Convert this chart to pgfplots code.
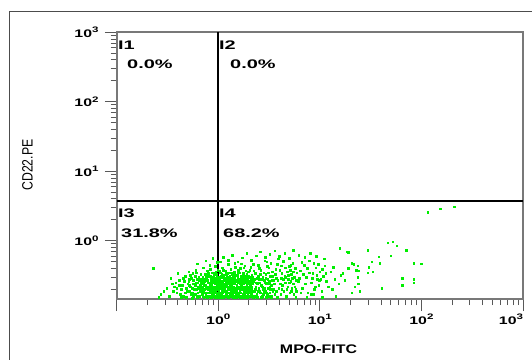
\documentclass[border=0pt]{standalone}
\usepackage{pgfplots}
\pgfplotsset{compat=1.18}
\usepackage{fontspec}
\setmainfont{Liberation Sans}
\definecolor{dotgreen}{RGB}{0,238,0}
\definecolor{axgray}{RGB}{120,120,120}
\newcommand{\lbl}[1]{\scalebox{1.45}[1]{\fontsize{11}{11}\selectfont\bfseries 10\raisebox{0.42em}{\fontsize{8}{8}\selectfont #1}}}
\newcommand{\lastlbl}[1]{\hbox to 0pt{\hss\lbl{#1}}}
\newcommand{\qlab}[1]{\scalebox{1.6}[1]{\fontsize{12.5}{12.5}\selectfont\bfseries #1}}
\begin{document}
\begin{tikzpicture}[x=1bp,y=1bp]
\useasboundingbox (0,0) rectangle (532,359);
\draw[line width=1bp, black!70] (9,-2) -- (9,347) -- (534,347);
\begin{axis}[
  at={(116.7bp,60bp)}, anchor=south west,
  scale only axis, width=406.3bp, height=266.7bp,
  xmode=log, ymode=log,
  xmin=0.1, xmax=1000, ymin=0.1455, ymax=1000,
  axis line style={draw=axgray, line width=2.2bp},
  xtick={0.1,1,10,100,1000},
  xticklabels={,\lbl{0},\lbl{1},\lbl{2},\lastlbl{3}},
  minor xtick={0.2,0.3,0.4,0.5,0.6,0.7,0.8,0.9,2,3,4,5,6,7,8,9,20,30,40,50,60,70,80,90,200,300,400,500,600,700,800,900},
  ytick={1,10,100,1000},
  yticklabels={\lbl{0},\lbl{1},\lbl{2},\lbl{3}},
  minor ytick={0.2,0.3,0.4,0.5,0.6,0.7,0.8,0.9,2,3,4,5,6,7,8,9,20,30,40,50,60,70,80,90,200,300,400,500,600,700,800,900},
  tick align=outside, xtick pos=bottom, ytick pos=left,
  major tick length=12bp, minor tick length=6bp,
  tick style={draw=black!65, line width=1bp},
  xticklabel style={inner sep=0pt, anchor=north, yshift=-3bp},
  yticklabel style={inner sep=0pt, anchor=east, xshift=-6bp},
]
\addplot[dotgreen, only marks, mark=square*, mark size=0.8bp, mark options={draw=none, fill=dotgreen}] coordinates {
(0.23,0.40)(0.34,0.29)(0.27,0.17)(0.31,0.21)(0.33,0.16)(0.29,0.19)(0.35,0.24)(0.26,0.155)
(0.37,0.22)(0.39,0.18)(0.41,0.27)(0.43,0.20)(0.45,0.16)(0.47,0.31)(0.38,0.25)(0.44,0.23)(0.49,0.19)(0.42,0.17)
(0.46,0.26)(0.48,0.21)(0.40,0.34)(0.36,0.19)(0.45,0.29)(0.50,0.24)(0.43,0.155)(0.39,0.21)(0.47,0.18)(0.41,0.23)
(0.51,0.36)(0.53,0.22)(0.55,0.18)(0.57,0.27)(0.59,0.31)(0.61,0.20)(0.63,0.25)(0.65,0.16)(0.67,0.33)(0.69,0.22)
(0.52,0.19)(0.54,0.29)(0.56,0.24)(0.58,0.17)(0.60,0.38)(0.62,0.28)(0.64,0.21)(0.66,0.19)(0.68,0.26)(0.70,0.30)
(0.51,0.26)(0.53,0.32)(0.55,0.21)(0.57,0.16)(0.59,0.23)(0.61,0.35)(0.63,0.18)(0.65,0.27)(0.67,0.24)(0.69,0.17)
(0.52,0.23)(0.56,0.34)(0.58,0.20)(0.62,0.16)(0.64,0.30)(0.66,0.23)(0.68,0.19)(0.54,0.17)(0.60,0.25)(0.70,0.21)
(0.71,0.41)(0.72,0.19)(0.73,0.26)(0.74,0.33)(0.75,0.17)(0.76,0.22)(0.77,0.29)(0.78,0.37)(0.79,0.20)(0.80,0.25)
(0.81,0.16)(0.82,0.31)(0.83,0.23)(0.84,0.18)(0.85,0.28)(0.86,0.35)(0.87,0.21)(0.88,0.17)(0.89,0.26)(0.90,0.32)
(0.91,0.19)(0.92,0.24)(0.93,0.43)(0.94,0.27)(0.95,0.16)(0.96,0.22)(0.97,0.30)(0.98,0.18)(0.99,0.25)(0.72,0.28)
(0.74,0.23)(0.76,0.16)(0.78,0.21)(0.80,0.34)(0.82,0.19)(0.84,0.26)(0.86,0.23)(0.88,0.30)(0.90,0.17)(0.92,0.20)
(0.94,0.36)(0.96,0.18)(0.98,0.29)(0.73,0.20)(0.75,0.30)(0.77,0.18)(0.79,0.27)(0.81,0.22)(0.83,0.39)(0.85,0.19)
(0.87,0.25)(0.89,0.16)(0.91,0.28)(0.93,0.21)(0.95,0.33)(0.97,0.17)(0.99,0.20)(0.71,0.24)(0.77,0.33)(0.83,0.16)
(0.89,0.22)(0.95,0.24)(0.99,0.38)(0.74,0.18)(0.80,0.20)(0.86,0.17)(0.92,0.29)(0.96,0.26)(0.76,0.27)(0.84,0.31)
(1.01,0.19)(1.02,0.27)(1.03,0.22)(1.04,0.35)(1.05,0.17)(1.06,0.24)(1.07,0.30)(1.08,0.20)(1.09,0.41)(1.10,0.26)
(1.11,0.18)(1.12,0.23)(1.13,0.32)(1.14,0.16)(1.15,0.28)(1.16,0.21)(1.17,0.37)(1.18,0.19)(1.19,0.25)(1.20,0.29)
(1.21,0.17)(1.22,0.22)(1.23,0.34)(1.24,0.20)(1.25,0.27)(1.26,0.46)(1.27,0.18)(1.28,0.24)(1.29,0.31)(1.30,0.21)
(1.31,0.16)(1.32,0.26)(1.33,0.39)(1.34,0.19)(1.35,0.23)(1.36,0.28)(1.37,0.17)(1.38,0.33)(1.39,0.20)(1.40,0.25)
(1.41,0.22)(1.42,0.30)(1.43,0.18)(1.44,0.36)(1.45,0.24)(1.46,0.16)(1.47,0.27)(1.48,0.21)(1.49,0.32)(1.50,0.19)
(1.02,0.21)(1.04,0.16)(1.06,0.31)(1.08,0.25)(1.10,0.19)(1.12,0.38)(1.14,0.22)(1.16,0.27)(1.18,0.17)(1.20,0.23)
(1.22,0.30)(1.24,0.16)(1.26,0.21)(1.28,0.35)(1.30,0.26)(1.32,0.18)(1.34,0.29)(1.36,0.22)(1.38,0.16)(1.40,0.31)
(1.42,0.19)(1.44,0.24)(1.46,0.42)(1.48,0.17)(1.03,0.29)(1.07,0.17)(1.11,0.26)(1.15,0.20)(1.19,0.33)(1.23,0.18)
(1.27,0.28)(1.31,0.23)(1.35,0.19)(1.39,0.27)(1.43,0.25)(1.47,0.20)(1.05,0.23)(1.13,0.19)(1.21,0.26)(1.29,0.17)
(1.52,0.23)(1.55,0.29)(1.58,0.18)(1.61,0.35)(1.64,0.21)(1.67,0.26)(1.70,0.16)(1.73,0.31)(1.76,0.24)(1.79,0.19)
(1.82,0.44)(1.85,0.27)(1.88,0.20)(1.91,0.33)(1.94,0.17)(1.97,0.25)(2.00,0.22)(2.03,0.38)(2.06,0.18)(2.09,0.28)
(2.12,0.21)(2.15,0.16)(2.18,0.30)(1.53,0.17)(1.56,0.21)(1.59,0.27)(1.62,0.19)(1.65,0.40)(1.68,0.23)(1.71,0.28)
(1.74,0.17)(1.77,0.34)(1.80,0.22)(1.83,0.18)(1.86,0.25)(1.89,0.30)(1.92,0.16)(1.95,0.21)(1.98,0.36)(2.01,0.19)
(2.04,0.26)(2.07,0.23)(2.10,0.17)(2.13,0.32)(2.16,0.24)(2.19,0.19)(1.54,0.32)(1.57,0.25)(1.60,0.16)(1.63,0.28)
(1.66,0.18)(1.69,0.47)(1.72,0.20)(1.75,0.26)(1.78,0.16)(1.81,0.29)(1.84,0.21)(1.87,0.37)(1.90,0.23)(1.93,0.27)
(1.96,0.18)(1.99,0.31)(2.02,0.16)(2.05,0.21)(2.08,0.42)(2.11,0.25)(2.14,0.19)(2.17,0.27)(1.51,0.20)(1.58,0.38)
(1.66,0.31)(1.74,0.22)(1.82,0.16)(1.90,0.19)(1.98,0.24)(2.06,0.30)(2.14,0.22)(1.62,0.24)(1.78,0.41)(1.94,0.29)
(2.22,0.26)(2.26,0.19)(2.30,0.34)(2.34,0.22)(2.38,0.17)(2.42,0.29)(2.46,0.45)(2.50,0.21)(2.54,0.25)(2.58,0.18)
(2.62,0.38)(2.66,0.23)(2.70,0.16)(2.74,0.30)(2.78,0.20)(2.82,0.27)(2.86,0.52)(2.90,0.19)(2.94,0.33)(2.98,0.24)
(3.02,0.17)(3.06,0.28)(3.10,0.21)(3.14,0.41)(3.18,0.26)(3.22,0.18)(3.26,0.31)(3.30,0.23)(3.34,0.16)(3.38,0.36)
(3.42,0.20)(3.46,0.27)(2.24,0.37)(2.32,0.16)(2.40,0.24)(2.48,0.31)(2.56,0.19)(2.64,0.28)(2.72,0.22)(2.80,0.35)
(2.88,0.25)(2.96,0.18)(3.04,0.43)(3.12,0.16)(3.20,0.22)(3.28,0.48)(3.36,0.27)(3.44,0.19)(2.28,0.28)(2.44,0.19)
(2.60,0.33)(2.76,0.17)(2.92,0.29)(3.08,0.35)(3.24,0.20)(3.40,0.31)(2.52,0.40)(2.84,0.21)(3.16,0.24)(2.36,0.25)
(3.55,0.24)(3.62,0.33)(3.70,0.19)(3.78,0.46)(3.86,0.27)(3.94,0.21)(4.02,0.38)(4.10,0.17)(4.18,0.29)(4.26,0.23)
(4.34,0.51)(4.42,0.19)(4.50,0.31)(4.58,0.25)(4.66,0.16)(4.74,0.36)(4.82,0.22)(4.90,0.28)(4.98,0.43)(5.06,0.18)
(5.14,0.26)(5.22,0.33)(5.30,0.21)(5.38,0.48)(5.46,0.24)(5.54,0.17)(5.62,0.30)(5.70,0.40)(5.78,0.20)(5.86,0.27)
(5.94,0.35)(3.58,0.17)(3.74,0.29)(3.90,0.55)(4.06,0.24)(4.22,0.34)(4.38,0.28)(4.54,0.41)(4.70,0.20)(4.86,0.32)
(5.02,0.25)(5.18,0.45)(5.34,0.29)(5.50,0.36)(5.66,0.22)(5.82,0.19)(3.66,0.39)(4.14,0.44)(4.62,0.30)(5.10,0.38)
(6.1,0.26)(6.4,0.37)(6.7,0.21)(7.0,0.45)(7.3,0.30)(7.6,0.18)(7.9,0.52)(8.2,0.25)(8.5,0.34)(8.8,0.20)
(9.1,0.41)(9.4,0.28)(9.7,0.23)(10.0,0.36)(10.4,0.19)(10.8,0.31)(11.2,0.44)(11.6,0.26)(12.0,0.22)(6.3,0.29)
(6.9,0.33)(7.5,0.40)(8.1,0.17)(8.7,0.48)(9.3,0.32)(9.9,0.27)(10.6,0.39)(11.4,0.34)(6.6,0.49)(7.2,0.24)
(7.8,0.35)(8.4,0.29)(9.0,0.22)(9.6,0.46)(10.2,0.28)
(0.62,0.47)(0.75,0.52)(0.88,0.56)(0.97,0.49)(1.12,0.58)(1.25,0.53)(1.38,0.62)(1.55,0.50)(1.72,0.57)(1.90,0.66)
(2.1,0.53)(2.35,0.61)(2.6,0.70)(2.9,0.58)(3.2,0.64)(3.6,0.72)(4.0,0.60)(4.5,0.67)(5.0,0.56)(5.5,0.74)
(6.2,0.62)(7.1,0.58)(8.0,0.66)(9.2,0.60)(11.0,0.55)(0.82,0.45)(1.05,0.50)(1.45,0.48)(2.2,0.46)(3.0,0.50)
(0.55,0.15)(0.6,0.17)(0.62,0.155)(0.66,0.21)(0.7,0.16)(0.72,0.155)(0.74,0.27)(0.78,0.155)(0.8,0.18)(0.82,0.24)
(0.85,0.155)(0.87,0.19)(0.9,0.27)(0.93,0.155)(0.94,0.19)(0.97,0.23)(1.0,0.155)(1.0,0.3)(1.02,0.175)(1.04,0.25)
(1.06,0.155)(1.08,0.33)(1.1,0.21)(1.12,0.155)(1.15,0.24)(1.17,0.16)(1.2,0.19)(1.22,0.27)(1.25,0.155)(1.27,0.22)
(1.3,0.31)(1.33,0.16)(1.35,0.27)(1.38,0.21)(1.4,0.155)(1.43,0.29)(1.46,0.19)(1.5,0.155)(1.53,0.27)(1.57,0.17)
(1.6,0.22)(1.64,0.155)(1.68,0.2)(1.72,0.155)(1.76,0.29)(1.8,0.17)(1.85,0.155)(1.9,0.26)(1.95,0.155)(2.0,0.19)
(0.58,0.24)(0.63,0.22)(0.68,0.28)(0.73,0.23)(0.79,0.31)(0.84,0.21)(0.88,0.25)(0.91,0.34)(0.96,0.28)(0.99,0.17)
(1.03,0.37)(1.09,0.23)(1.14,0.29)(1.18,0.34)(1.24,0.25)(1.29,0.2)(1.34,0.35)(1.37,0.24)(1.41,0.18)(1.45,0.34)
(1.49,0.26)(1.56,0.34)(1.63,0.2)(1.7,0.24)(1.77,0.2)(1.84,0.31)(1.92,0.22)(2.05,0.26)(2.1,0.2)(2.2,0.155)
(2.3,0.2)(2.4,0.155)(2.5,0.28)(2.65,0.155)(2.8,0.19)(2.95,0.155)(3.1,0.25)(3.3,0.155)(3.5,0.2)(3.8,0.155)
(4.2,0.2)(4.6,0.155)(5.2,0.19)(5.8,0.155)(6.5,0.18)(7.4,0.155)(8.6,0.17)(10.5,0.155)(0.48,0.155)(0.52,0.28)
(15.7,0.79)(18.4,0.70)(18.9,0.69)(29.6,0.74)(37.8,0.59)(49.6,0.61)(83.6,0.48)(100,0.47)(32.3,0.50)(38.7,0.48)
(30.2,0.42)(33,0.36)(29.6,0.35)(23.5,0.44)(24,0.37)(22.8,0.38)(20.6,0.48)(21.5,0.46)(65,0.29)(65,0.23)
(84,0.28)(84,0.25)(40.6,0.21)(23.5,0.30)(24,0.24)(24.6,0.19)(22,0.22)(20.6,0.18)(14.3,0.16)(15.3,0.24)
(16,0.32)(16.8,0.34)(13.5,0.42)(14,0.28)(12.8,0.36)(13.2,0.20)(17.5,0.27)(19,0.40)(46.5,0.94)(52,0.97)
(57,0.85)(71,0.74)(115,2.6)(154,2.9)(210,3.1)
};
\addplot[black, line width=2bp, no marks] coordinates {(1,0.1455) (1,1000)};
\addplot[black, line width=2bp, no marks] coordinates {(0.1,3.8) (1000,3.8)};
\end{axis}
\node[anchor=west, inner sep=0pt] at (118,314) {\qlab{I1}};
\node[anchor=west, inner sep=0pt] at (127,294.5) {\qlab{0.0\%}};
\node[anchor=west, inner sep=0pt] at (219,314) {\qlab{I2}};
\node[anchor=west, inner sep=0pt] at (230,294.5) {\qlab{0.0\%}};
\node[anchor=west, inner sep=0pt] at (118,146) {\qlab{I3}};
\node[anchor=west, inner sep=0pt] at (121,125.7) {\qlab{31.8\%}};
\node[anchor=west, inner sep=0pt] at (219,146) {\qlab{I4}};
\node[anchor=west, inner sep=0pt] at (223,125.7) {\qlab{68.2\%}};
\node[rotate=90, inner sep=0pt] at (27.5,194) {\scalebox{0.82}[1]{\fontsize{15}{15}\selectfont CD22.PE}};
\node[inner sep=0pt] at (318.5,10) {\scalebox{1.28}[1]{\fontsize{12.5}{12.5}\selectfont\bfseries MPO-FITC}};
\end{tikzpicture}
\end{document}
